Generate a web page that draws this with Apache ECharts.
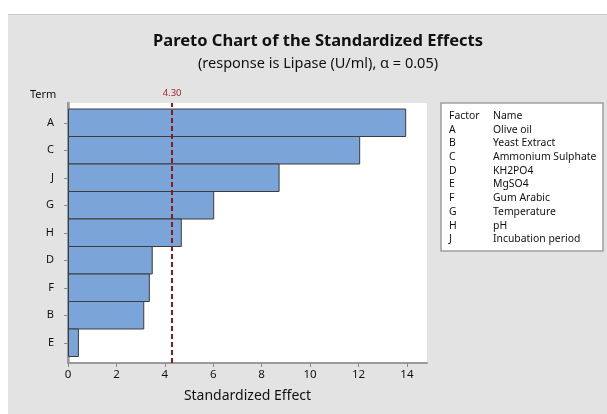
<!DOCTYPE html>
<html><head><meta charset="utf-8">
<script src="https://cdn.jsdelivr.net/npm/echarts@6/dist/echarts.min.js"></script>
<style>
html,body{margin:0;padding:0;background:#fff;}
#bg{position:absolute;left:8px;top:14px;width:599px;height:400px;background:#e3e3e3;border-top:1px solid #c8c8c8;box-sizing:border-box;}
#c{position:absolute;left:0;top:0;width:607px;height:414px;}
</style></head>
<body><div id="bg"></div><div id="c"></div>
<script>
// Data
const terms = ['A','C','J','G','H','D','F','B','E'];
const effects = [13.97, 12.07, 8.74, 6.04, 4.70, 3.50, 3.38, 3.15, 0.45];
const criticalValue = 4.30;
const xTicks = [0, 2, 4, 6, 8, 10, 12, 14];
const factorCodes = ['A','B','C','D','E','F','G','H','J'];
const factorNames = ['Olive oil','Yeast Extract','Ammonium Sulphate','KH2PO4','MgSO4','Gum Arabic','Temperature','pH','Incubation period'];

const FONT = 'Noto Sans';
const XMAX = 14.83;
const gridL = 68, gridW = 359;

const tableX = 441, tableY = 103, rowH = 13.7;
const tf = '10.4px "'+FONT+'"';
const tableChildren = [{
  type:'rect', shape:{x:0,y:0,width:162,height:148},
  style:{fill:'#fff', stroke:'#a0a0a0', lineWidth:1.5}
},{
  type:'text', x:8, y:13, style:{text:'Factor', font:tf, fill:'#111', verticalAlign:'middle'}
},{
  type:'text', x:52, y:13, style:{text:'Name', font:tf, fill:'#111', verticalAlign:'middle'}
}];
factorCodes.forEach((c,i)=>{
  tableChildren.push({type:'text', x:8, y:13+(i+1)*rowH, style:{text:c, font:tf, fill:'#111', verticalAlign:'middle'}});
  tableChildren.push({type:'text', x:52, y:13+(i+1)*rowH, style:{text:factorNames[i], font:tf, fill:'#111', verticalAlign:'middle'}});
});

const chart = echarts.init(document.getElementById('c'), null, {renderer:'canvas'});
chart.setOption({
  backgroundColor:'transparent',
  animation:false,
  textStyle:{fontFamily:FONT},
  title:[{
    text:'Pareto Chart of the Standardized Effects',
    subtext:'(response is Lipase (U/ml), α = 0.05)',
    left:313, top:28, textAlign:'center',
    textStyle:{fontSize:16.5, fontWeight:'bold', color:'#111', fontFamily:FONT},
    subtextStyle:{fontSize:14.5, color:'#111', fontFamily:FONT},
    itemGap:6
  },{
    text:'Term', left:25, top:84,
    textStyle:{fontSize:11, fontWeight:'normal', color:'#111', fontFamily:FONT}
  }],
  grid:[
    {left:gridL, top:103, width:gridW, height:260, show:true, backgroundColor:'#fff', borderWidth:0},
    {left:gridL, top:109, width:gridW, height:247.5}
  ],
  xAxis:[
    {gridIndex:0, type:'value', min:0, max:XMAX, interval:2, position:'bottom',
     axisLine:{show:false}, splitLine:{show:false},
     axisLabel:{color:'#111', fontSize:11.5, margin:6, fontFamily:FONT, customValues: xTicks},
     axisTick:{show:true, length:4, lineStyle:{color:'#8a8a8a'}, customValues: xTicks},
     name:'Standardized Effect', nameLocation:'middle', nameGap:26,
     nameTextStyle:{fontSize:14, color:'#111', fontFamily:FONT}},
    {gridIndex:0, type:'value', min:0, max:XMAX, position:'top',
     axisLine:{show:true, lineStyle:{color:'#9a9a9a', width:2}},
     axisTick:{show:false}, axisLabel:{show:false}, splitLine:{show:false}},
    {gridIndex:1, type:'value', min:0, max:XMAX, show:false, splitLine:{show:false}}
  ],
  yAxis:[
    {gridIndex:0, type:'value', min:0, max:1, position:'left',
     axisLine:{show:true, lineStyle:{color:'#9a9a9a', width:2}},
     axisTick:{show:false}, axisLabel:{show:false}, splitLine:{show:false}},
    {gridIndex:0, type:'value', min:0, max:1, position:'right',
     axisLine:{show:true, lineStyle:{color:'#9a9a9a', width:2.5}},
     axisTick:{show:false}, axisLabel:{show:false}, splitLine:{show:false}},
    {gridIndex:1, type:'category', data:terms, inverse:true,
     axisLine:{show:false}, splitLine:{show:false},
     axisTick:{show:true, alignWithLabel:true, length:4, lineStyle:{color:'#8a8a8a'}},
     axisLabel:{color:'#111', fontSize:11, margin:14, fontFamily:FONT}}
  ],
  series:[
    {type:'bar', xAxisIndex:2, yAxisIndex:2, data:effects, barWidth:28.5,
     itemStyle:{color:'#7ba4d8', borderColor:'#3c3c3c', borderWidth:1}, z:3},
    {type:'scatter', xAxisIndex:0, yAxisIndex:0, data:[], z:5,
     markLine:{silent:true, symbol:'none',
       lineStyle:{color:'#8b1a1f', type:[5,3], width:2},
       label:{show:true, position:'end', formatter:'4.30', color:'#a0282d', fontSize:9.5, distance:5, fontFamily:FONT},
       data:[[{coord:[criticalValue,0]},{coord:[criticalValue,1]}]]}}
  ],
  graphic:[{type:'group', x:tableX, y:tableY, children:tableChildren}]
});
</script></body></html>
